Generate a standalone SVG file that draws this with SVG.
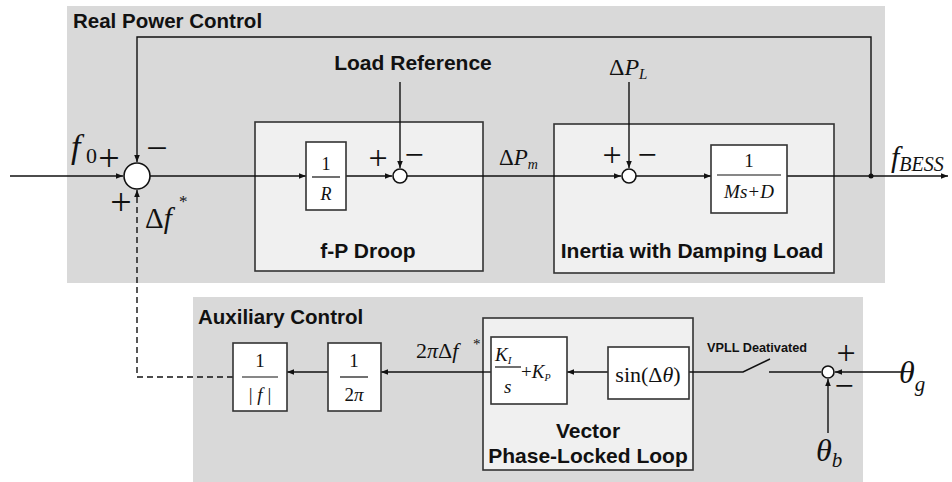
<svg xmlns="http://www.w3.org/2000/svg" width="952" height="482" viewBox="0 0 952 482">
<style>
.panel{fill:#d9d9d9;stroke:none}
.sub{fill:#f0f0f0;stroke:#333;stroke-width:1.6}
.blk{fill:#fff;stroke:#333;stroke-width:1.6}
.ln{fill:none;stroke:#111;stroke-width:1.4}
.sum{fill:#fff;stroke:#111;stroke-width:1.6}
.t{font-family:"Liberation Sans",Arial,sans-serif;font-weight:bold;fill:#111}
.m{font-family:"Liberation Serif","Times New Roman",serif;fill:#111}
.s{font-family:"Liberation Serif","Times New Roman",serif;fill:#111;text-anchor:middle}
.i{font-style:italic}
</style>
<defs>
<marker id="ar" viewBox="0 0 10 10" refX="10" refY="5" markerWidth="7" markerHeight="7" orient="auto" markerUnits="userSpaceOnUse">
<path d="M0,1 L10,5 L0,9 Z" fill="#111"/>
</marker>
</defs>

<g id="real-power-control">
<rect class="panel" x="67" y="6" width="818" height="277"/>
<text class="t" x="73" y="28" font-size="20.5">Real Power Control</text>
</g>
<g id="auxiliary-control">
<rect class="panel" x="193" y="297" width="670" height="185"/>
<text class="t" x="198" y="324" font-size="20.5">Auxiliary Control</text>
</g>

<g id="fp-droop">
<rect class="sub" x="255" y="122" width="228" height="149"/>
<text class="t" x="368" y="258" font-size="21" text-anchor="middle">f-P Droop</text>
</g>
<g id="inertia">
<rect class="sub" x="554" y="124" width="280" height="149"/>
<text class="t" x="692" y="258" font-size="21" text-anchor="middle">Inertia with Damping Load</text>
</g>
<g id="vpll">
<rect class="sub" x="483" y="318" width="210" height="152"/>
<text class="t" x="588" y="438" font-size="21" text-anchor="middle">Vector</text>
<text class="t" x="588" y="463" font-size="21" text-anchor="middle">Phase-Locked Loop</text>
</g>

<g id="connectors">
<line class="ln" x1="10" y1="176" x2="123" y2="176" marker-end="url(#ar)"/>
<path class="ln" d="M871,176 V37 H137 V162" marker-end="url(#ar)"/>
<line class="ln" x1="150" y1="176" x2="306" y2="176" marker-end="url(#ar)"/>
<line class="ln" x1="346" y1="176" x2="392" y2="176" marker-end="url(#ar)"/>
<line class="ln" x1="400" y1="82" x2="400" y2="168" marker-end="url(#ar)"/>
<line class="ln" x1="407" y1="176" x2="621" y2="176" marker-end="url(#ar)"/>
<line class="ln" x1="629" y1="82" x2="629" y2="168" marker-end="url(#ar)"/>
<line class="ln" x1="636" y1="176" x2="711" y2="176" marker-end="url(#ar)"/>
<line class="ln" x1="787" y1="176" x2="948" y2="176" marker-end="url(#ar)"/>
<circle cx="871" cy="176" r="2.5" fill="#111"/>
<path class="ln" d="M233,377 H137 V190" stroke-dasharray="6,4" marker-end="url(#ar)"/>
<line class="ln" x1="483" y1="372" x2="381" y2="372" marker-end="url(#ar)"/>
<line class="ln" x1="491" y1="372" x2="483" y2="372"/>
<line class="ln" x1="328" y1="372" x2="287" y2="372" marker-end="url(#ar)"/>
<line class="ln" x1="608" y1="372" x2="567" y2="372" marker-end="url(#ar)"/>
<path class="ln" d="M689,372 H743 L770,359"/>
<line class="ln" x1="769" y1="372" x2="821" y2="372"/>
<line class="ln" x1="903" y1="372" x2="835" y2="372" marker-end="url(#ar)"/>
<line class="ln" x1="828" y1="433" x2="828" y2="379" marker-end="url(#ar)"/>
</g>

<g id="sum-main">
<circle class="sum" cx="137" cy="176" r="13"/>
<text class="m i" x="71" y="158" font-size="34">f</text>
<text class="m" x="86" y="163" font-size="22">0</text>
<text class="s" x="109" y="171" font-size="38">+</text>
<text class="s" x="157" y="160.5" font-size="38">−</text>
<text class="s" x="121" y="215" font-size="38">+</text>
<text class="m" x="145" y="228" font-size="29">Δ<tspan font-style="italic">f</tspan></text>
<text class="m" x="179" y="207" font-size="17">*</text>
</g>

<g id="block-1-over-R">
<rect class="blk" x="306" y="142" width="40" height="68"/>
<text class="m" x="326" y="170" font-size="18" text-anchor="middle">1</text>
<line x1="312" y1="177" x2="340" y2="177" stroke="#111" stroke-width="1.2"/>
<text class="m i" x="326" y="200" font-size="18" text-anchor="middle">R</text>
</g>

<g id="sum-load">
<circle class="sum" cx="400" cy="176" r="7"/>
<text class="t" x="413" y="70" font-size="21" text-anchor="middle">Load Reference</text>
<text class="s" x="378" y="169" font-size="34">+</text>
<text class="s" x="414" y="165.5" font-size="34">−</text>
<text class="m" x="499" y="165" font-size="23">Δ<tspan font-style="italic">P</tspan><tspan font-style="italic" font-size="14" dy="4">m</tspan></text>
</g>

<g id="sum-inertia">
<circle class="sum" cx="629" cy="176" r="7"/>
<text class="m" x="609" y="75" font-size="24">Δ<tspan font-style="italic">P</tspan><tspan font-style="italic" font-size="15" dy="4">L</tspan></text>
<text class="s" x="612" y="166" font-size="34">+</text>
<text class="s" x="647" y="165.5" font-size="34">−</text>
</g>

<g id="block-inertia">
<rect class="blk" x="711" y="145" width="76" height="68"/>
<text class="m" x="749" y="167" font-size="19" text-anchor="middle">1</text>
<line x1="717" y1="175" x2="781" y2="175" stroke="#111" stroke-width="1.2"/>
<text class="m i" x="749" y="198" font-size="19" text-anchor="middle">Ms+D</text>
</g>

<g id="output-fbess">
<text class="m i" x="891" y="167" font-size="30">f<tspan font-size="20" dy="4">BESS</tspan></text>
</g>

<g id="block-1-over-f">
<rect class="blk" x="233" y="343" width="54" height="68"/>
<text class="m" x="260" y="367" font-size="19" text-anchor="middle">1</text>
<line x1="242" y1="377" x2="278" y2="377" stroke="#111" stroke-width="1.2"/>
<text class="m" x="260" y="401" font-size="19" text-anchor="middle">| <tspan font-style="italic">f</tspan> |</text>
</g>

<g id="block-1-over-2pi">
<rect class="blk" x="328" y="343" width="53" height="68"/>
<text class="m" x="354" y="367" font-size="19" text-anchor="middle">1</text>
<line x1="340" y1="377" x2="368" y2="377" stroke="#111" stroke-width="1.2"/>
<text class="m" x="354" y="401" font-size="19" text-anchor="middle">2<tspan font-style="italic">π</tspan></text>
<text class="m" x="416" y="358" font-size="22">2<tspan font-style="italic">π</tspan>Δ<tspan font-style="italic">f</tspan></text>
<text class="m" x="473" y="349" font-size="15">*</text>
</g>

<g id="block-pi">
<rect class="blk" x="491" y="337" width="76" height="67"/>
<text class="m i" x="495" y="361" font-size="19">K<tspan font-size="11" dy="3">I</tspan></text>
<line x1="495" y1="367" x2="521" y2="367" stroke="#111" stroke-width="1.2"/>
<text class="m i" x="504" y="393" font-size="19">s</text>
<text class="m" x="521" y="378" font-size="19">+<tspan font-style="italic">K</tspan><tspan font-style="italic" font-size="10" dy="3">P</tspan></text>
</g>

<g id="block-sin">
<rect class="blk" x="608" y="347" width="81" height="52"/>
<text class="m" x="648" y="382" font-size="22" text-anchor="middle">sin(Δ<tspan font-style="italic">θ</tspan>)</text>
</g>

<g id="switch">
<text class="t" x="707" y="352" font-size="12.5" textLength="100" lengthAdjust="spacingAndGlyphs">VPLL Deativated</text>
</g>

<g id="sum-theta">
<circle class="sum" cx="828" cy="372" r="6"/>
<text class="s" x="846" y="363.5" font-size="34">+</text>
<text class="s" x="844" y="396.5" font-size="34">−</text>
<text class="m i" x="899" y="383" font-size="32">θ<tspan font-size="21" dy="8">g</tspan></text>
<text class="m i" x="816" y="461" font-size="32">θ<tspan font-size="21" dy="6">b</tspan></text>
</g>
</svg>
